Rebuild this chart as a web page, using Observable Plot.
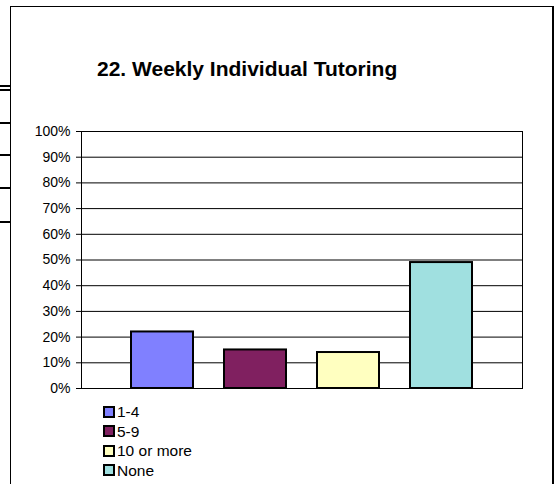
<!DOCTYPE html>
<html>
<head>
<meta charset="utf-8">
<script src="https://cdn.jsdelivr.net/npm/d3@7"></script>
<script src="https://cdn.jsdelivr.net/npm/@observablehq/plot@0.6"></script>
<style>
  html, body { margin: 0; padding: 0; background: #fff; }
  #wrap { position: relative; width: 554px; height: 484px; overflow: hidden; background: #fff;
          font-family: "Liberation Sans", Arial, sans-serif; color: #000; }
  #frame { position: absolute; left: 10px; top: 6px; width: 541px; height: 520px; border: 1px solid #000; border-right-width: 2px; }
  .stub { position: absolute; left: 0; width: 10px; height: 2px; background: #000; }
  #title { position: absolute; left: 97px; top: 58px; font-size: 21px; line-height: 21px; font-weight: bold; white-space: nowrap; }
  #chart { position: absolute; left: 0; top: 0; }
  #legend { position: absolute; left: 103px; top: 402px; font-size: 15.5px; }
  .row { display: flex; align-items: center; height: 19.5px; line-height: 19.5px; white-space: nowrap; }
  .sw { width: 12px; height: 12px; box-sizing: border-box; border: 2px solid #000; margin-right: 2px; }
</style>
</head>
<body>
<div id="wrap">
  <div id="frame"></div>
  <div class="stub" style="top:85px"></div>
  <div class="stub" style="top:89px"></div>
  <div class="stub" style="top:122px"></div>
  <div class="stub" style="top:154px"></div>
  <div class="stub" style="top:187px"></div>
  <div class="stub" style="top:221px"></div>
  <div id="chart"></div>
  <div id="title"></div>
  <div id="legend"></div>
</div>
<script>
const titleText = "22. Weekly Individual Tutoring";
const categories = ["1-4", "5-9", "10 or more", "None"];
const values = [0.22, 0.15, 0.14, 0.49];
const colors = ["#8080FF", "#802060", "#FFFFC0", "#A0E0E0"];
const yTicks = [0, 0.1, 0.2, 0.3, 0.4, 0.5, 0.6, 0.7, 0.8, 0.9, 1.0];

const data = categories.map((c, i) => ({cat: c, value: values[i]}));

const chart = Plot.plot({
  width: 554,
  height: 400,
  marginLeft: 81,
  marginRight: 32,
  marginTop: 131,
  marginBottom: 12,
  style: {fontFamily: '"Liberation Sans", Arial, sans-serif', fontSize: "14px", background: "transparent", color: "#000", overflow: "visible"},
  x: {type: "band", domain: categories, range: [130, 474], paddingInner: 0.33, paddingOuter: 0, axis: null},
  y: {domain: [0, 1], ticks: yTicks, tickFormat: d3.format(".0%"), tickSize: 5, tickPadding: 6, label: null},
  color: {domain: categories, range: colors},
  marks: [
    Plot.ruleY(yTicks, {stroke: "#000", strokeOpacity: 1, strokeWidth: 1}),
    Plot.frame({stroke: "#000"}),
    Plot.barY(data, {x: "cat", y: "value", fill: "cat", stroke: "#000", strokeWidth: 2}),
    Plot.ruleY([0], {stroke: "#000"})
  ]
});
document.getElementById("chart").appendChild(chart);
document.getElementById("title").textContent = titleText;

const legend = document.getElementById("legend");
categories.forEach((c, i) => {
  const row = document.createElement("div");
  row.className = "row";
  const sw = document.createElement("div");
  sw.className = "sw";
  sw.style.background = colors[i];
  const t = document.createElement("span");
  t.textContent = c;
  row.appendChild(sw);
  row.appendChild(t);
  legend.appendChild(row);
});
</script>
</body>
</html>
